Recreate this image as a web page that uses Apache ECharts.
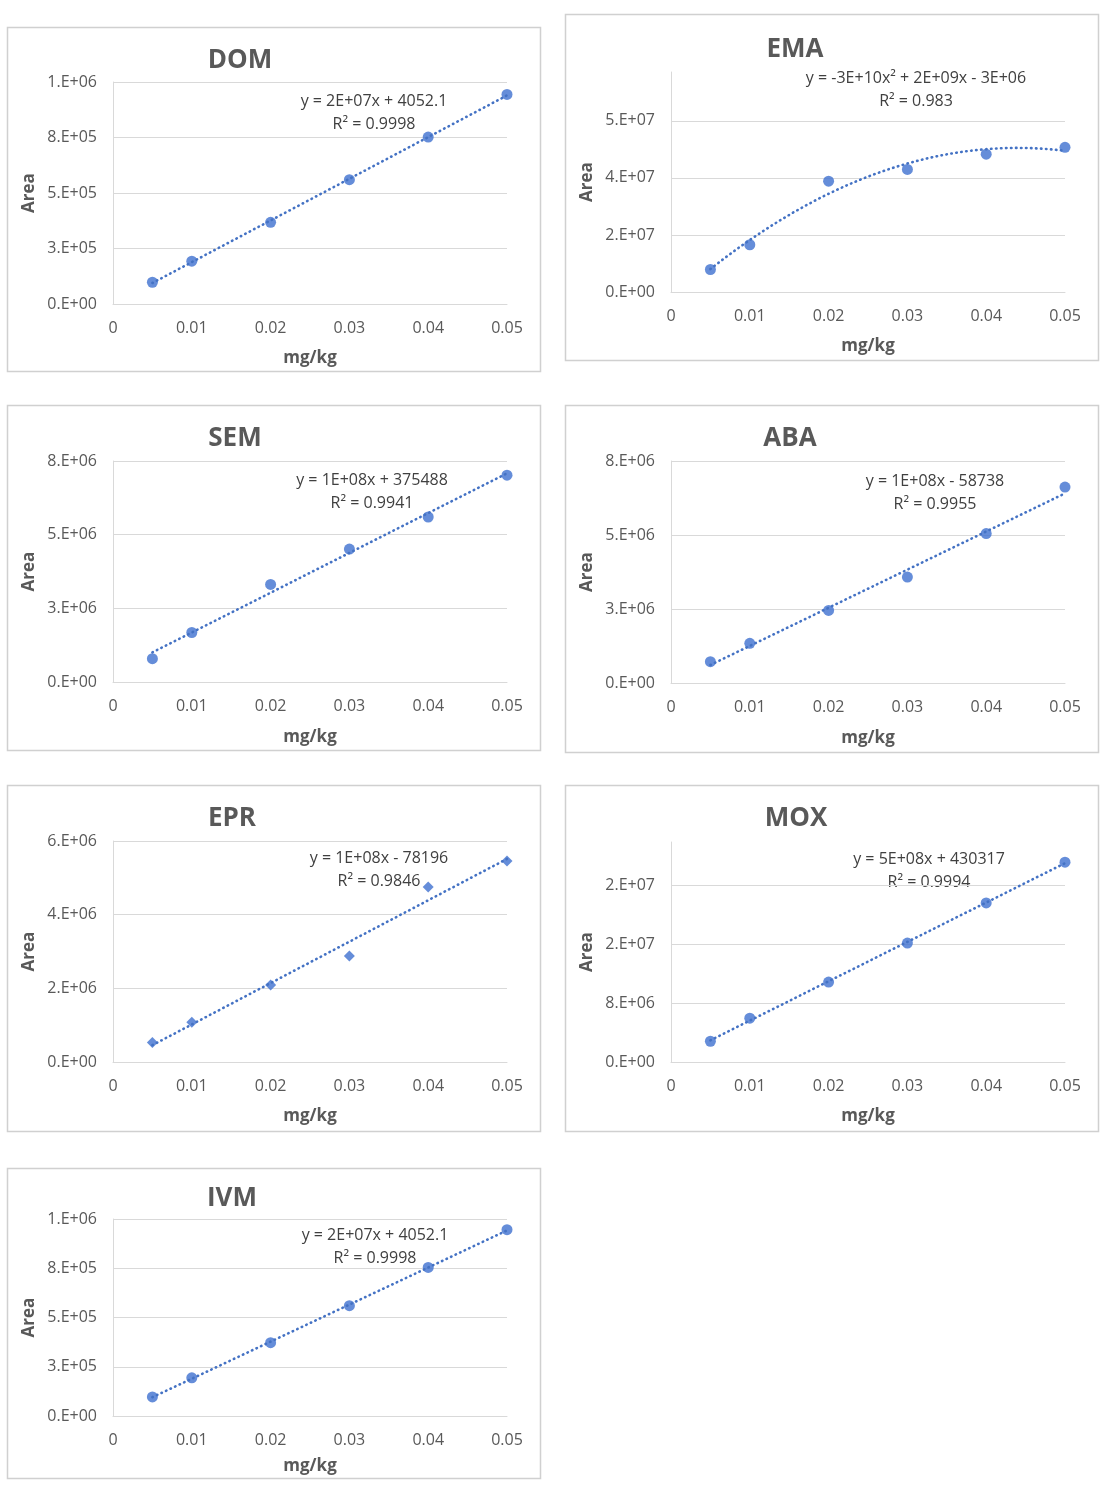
<!DOCTYPE html>
<html><head><meta charset="utf-8">
<script src="https://cdn.jsdelivr.net/npm/echarts@6/dist/echarts.min.js"></script>
<style>html,body{margin:0;padding:0;background:#fff}#c{width:1106px;height:1488px}</style>
</head><body><div id="c"></div>
<script>
// ---------- DATA ----------
const concentrations = [0.005, 0.01, 0.02, 0.03, 0.04, 0.05];
const xTicks = [0, 0.01, 0.02, 0.03, 0.04, 0.05];
const domArea = [98000, 193000, 368000, 560000, 752000, 944000];
const emaArea = [6.9e6, 14.5e6, 34.0e6, 37.6e6, 42.3e6, 44.4e6];
const semArea = [0.79e6, 1.68e6, 3.31e6, 4.51e6, 5.60e6, 7.02e6];
const abaArea = [0.72e6, 1.34e6, 2.45e6, 3.58e6, 5.05e6, 6.62e6];
const eprArea = [0.53e6, 1.08e6, 2.09e6, 2.88e6, 4.75e6, 5.46e6];
const moxArea = [2.64e6, 5.57e6, 10.17e6, 15.14e6, 20.24e6, 25.43e6];
const ivmArea = [97000, 194000, 372000, 560000, 754000, 946000];
const titles = ['DOM', 'EMA', 'SEM', 'ABA', 'EPR', 'MOX', 'IVM'];
const equations = ['y = 2E+07x + 4052.1', 'y = -3E+10x² + 2E+09x - 3E+06', 'y = 1E+08x + 375488',
  'y = 1E+08x - 58738', 'y = 1E+08x - 78196', 'y = 5E+08x + 430317', 'y = 2E+07x + 4052.1'];
const r2Labels = ['R² = 0.9998', 'R² = 0.983', 'R² = 0.9941', 'R² = 0.9955', 'R² = 0.9846', 'R² = 0.9994', 'R² = 0.9998'];
const yMax = [1e6, 6.75e7, 7.5e6, 7.5e6, 6e6, 2.8e7, 1e6];
const yInterval = [2.5e5, 1.75e7, 2.5e6, 2.5e6, 2e6, 7.5e6, 2.5e5];
const fitOrder = [1, 2, 1, 1, 1, 1, 1];
const markerShape = ['circle', 'circle', 'circle', 'circle', 'diamond', 'circle', 'circle'];
const areaSeries = [domArea, emaArea, semArea, abaArea, eprArea, moxArea, ivmArea];

// ---------- LAYOUT ----------
const panels = [
  {box: [7, 27, 533, 344], grid: [113, 82, 394, 222], title: [240, 61], eq: [374, 101], nameGapX: 46},
  {box: [565, 14, 533, 346], grid: [671, 72, 394, 220], title: [795, 50], eq: [916, 78], nameGapX: 46},
  {box: [7, 405, 533, 345], grid: [113, 461, 394, 221], title: [235, 439], eq: [372, 480], nameGapX: 47},
  {box: [565, 405, 533, 347], grid: [671, 461, 394, 222], title: [790, 439], eq: [935, 481], nameGapX: 47},
  {box: [7, 785, 533, 346], grid: [113, 841, 394, 221], title: [232, 819], eq: [379, 858], nameGapX: 46},
  {box: [565, 785, 533, 346], grid: [671, 842, 394, 220], title: [796, 819], eq: [929, 859], nameGapX: 46},
  {box: [7, 1168, 533, 310], grid: [113, 1219, 394, 197], title: [232, 1199], eq: [375, 1235], nameGapX: 42}
];
const BLUE = '#4472C4', GRID = '#D9D9D9', TXT = '#595959', FONT = '"Open Sans", sans-serif';

function sci(v) {
  if (Math.abs(v) < 1e-9) return '0.E+00';
  let e = Math.floor(Math.log10(v) + 1e-9);
  let m = Math.round(v / Math.pow(10, e) + 1e-9);
  if (m >= 10) { m = 1; e++; }
  return m + '.E+' + (e < 10 ? '0' : '') + e;
}
function linFit(xs, ys) {
  const n = xs.length, mx = xs.reduce((a, b) => a + b) / n, my = ys.reduce((a, b) => a + b) / n;
  let sxy = 0, sxx = 0;
  for (let i = 0; i < n; i++) { sxy += (xs[i] - mx) * (ys[i] - my); sxx += (xs[i] - mx) ** 2; }
  const b = sxy / sxx; return x => my + b * (x - mx);
}
function quadFit(xs, ys) {
  const S = k => xs.reduce((a, x) => a + x ** k, 0);
  const T = k => xs.reduce((a, x, i) => a + ys[i] * x ** k, 0);
  const M = [[S(0), S(1), S(2), T(0)], [S(1), S(2), S(3), T(1)], [S(2), S(3), S(4), T(2)]];
  for (let i = 0; i < 3; i++) {
    for (let j = i + 1; j < 3; j++) { const f = M[j][i] / M[i][i]; for (let k = i; k < 4; k++) M[j][k] -= f * M[i][k]; }
  }
  const c = [0, 0, 0];
  for (let i = 2; i >= 0; i--) { let s = M[i][3]; for (let k = i + 1; k < 3; k++) s -= M[i][k] * c[k]; c[i] = s / M[i][i]; }
  return x => c[0] + c[1] * x + c[2] * x * x;
}

const grids = [], xAxes = [], yAxes = [], series = [], graphics = [];
panels.forEach((p, i) => {
  graphics.push({type: 'rect', shape: {x: p.box[0] + 0.5, y: p.box[1] + 0.5, width: p.box[2], height: p.box[3]},
    style: {fill: 'none', stroke: '#D0D0D0', lineWidth: 1.5}, z: 0});
  graphics.push({type: 'text', x: p.title[0], y: p.title[1], style: {text: titles[i], font: 'bold 26px ' + FONT, fill: TXT,
    align: 'center', verticalAlign: 'middle', textAlign: 'center', textVerticalAlign: 'middle'}});
  graphics.push({type: 'text', x: p.eq[0], y: p.eq[1], style: {text: equations[i], font: '16px ' + FONT, fill: '#404040',
    align: 'center', verticalAlign: 'middle', textAlign: 'center', textVerticalAlign: 'middle'}});
  graphics.push({type: 'text', x: p.eq[0], y: p.eq[1] + 23, style: {text: r2Labels[i], font: '16px ' + FONT, fill: '#404040',
    align: 'center', verticalAlign: 'middle', textAlign: 'center', textVerticalAlign: 'middle'}});
  grids.push({left: p.grid[0], top: p.grid[1], width: p.grid[2], height: p.grid[3]});
  xAxes.push({type: 'value', gridIndex: i, min: xTicks[0], max: xTicks[xTicks.length - 1], interval: xTicks[1] - xTicks[0],
    name: 'mg/kg', nameLocation: 'middle', nameGap: p.nameGapX,
    nameTextStyle: {fontFamily: FONT, fontWeight: 'bold', fontSize: 17, color: TXT},
    axisLine: {show: true, lineStyle: {color: GRID, width: 1}}, axisTick: {show: false},
    splitLine: {show: false},
    axisLabel: {fontFamily: FONT, fontSize: 16, color: TXT, margin: 16, formatter: v => v === 0 ? '0' : (+v).toFixed(2)}});
  const niceMax = Math.abs(yMax[i] / yInterval[i] - Math.round(yMax[i] / yInterval[i])) < 1e-6;
  yAxes.push({type: 'value', gridIndex: i, min: 0, max: yMax[i], interval: yInterval[i],
    name: 'Area', nameLocation: 'middle', nameGap: 75, nameRotate: 90,
    nameTextStyle: {fontFamily: FONT, fontWeight: 'bold', fontSize: 17, color: TXT},
    axisLine: {show: true, lineStyle: {color: GRID, width: 1}}, axisTick: {show: false},
    splitLine: {show: true, showMaxLine: niceMax, lineStyle: {color: GRID, width: 1}},
    axisLabel: {fontFamily: FONT, fontSize: 16, color: TXT, margin: 16, showMaxLabel: niceMax, formatter: v => sci(v)}});
  const ys = areaSeries[i];
  series.push({type: 'scatter', xAxisIndex: i, yAxisIndex: i, symbol: markerShape[i],
    symbolSize: markerShape[i] === 'diamond' ? 11 : 11, itemStyle: {color: '#3E70CF'}, z: 3,
    data: concentrations.map((x, k) => [x, ys[k]])});
  const f = fitOrder[i] === 2 ? quadFit(concentrations, ys) : linFit(concentrations, ys);
  const x0 = concentrations[0], x1 = concentrations[concentrations.length - 1];
  const nSteps = fitOrder[i] === 2 ? 60 : 1;
  const fitData = [];
  for (let s = 0; s <= nSteps; s++) { const x = x0 + (x1 - x0) * s / nSteps; fitData.push([x, f(x)]); }
  series.push({type: 'line', xAxisIndex: i, yAxisIndex: i, showSymbol: false, symbol: 'none', silent: true, z: 4,
    lineStyle: {color: BLUE, width: 2.6, type: [0.5, 4.5], cap: 'round'}, data: fitData});
});

const chart = echarts.init(document.getElementById('c'), null, {renderer: 'canvas'});
chart.setOption({animation: false, backgroundColor: '#fff', grid: grids, xAxis: xAxes, yAxis: yAxes, series: series, graphic: graphics});
</script></body></html>
